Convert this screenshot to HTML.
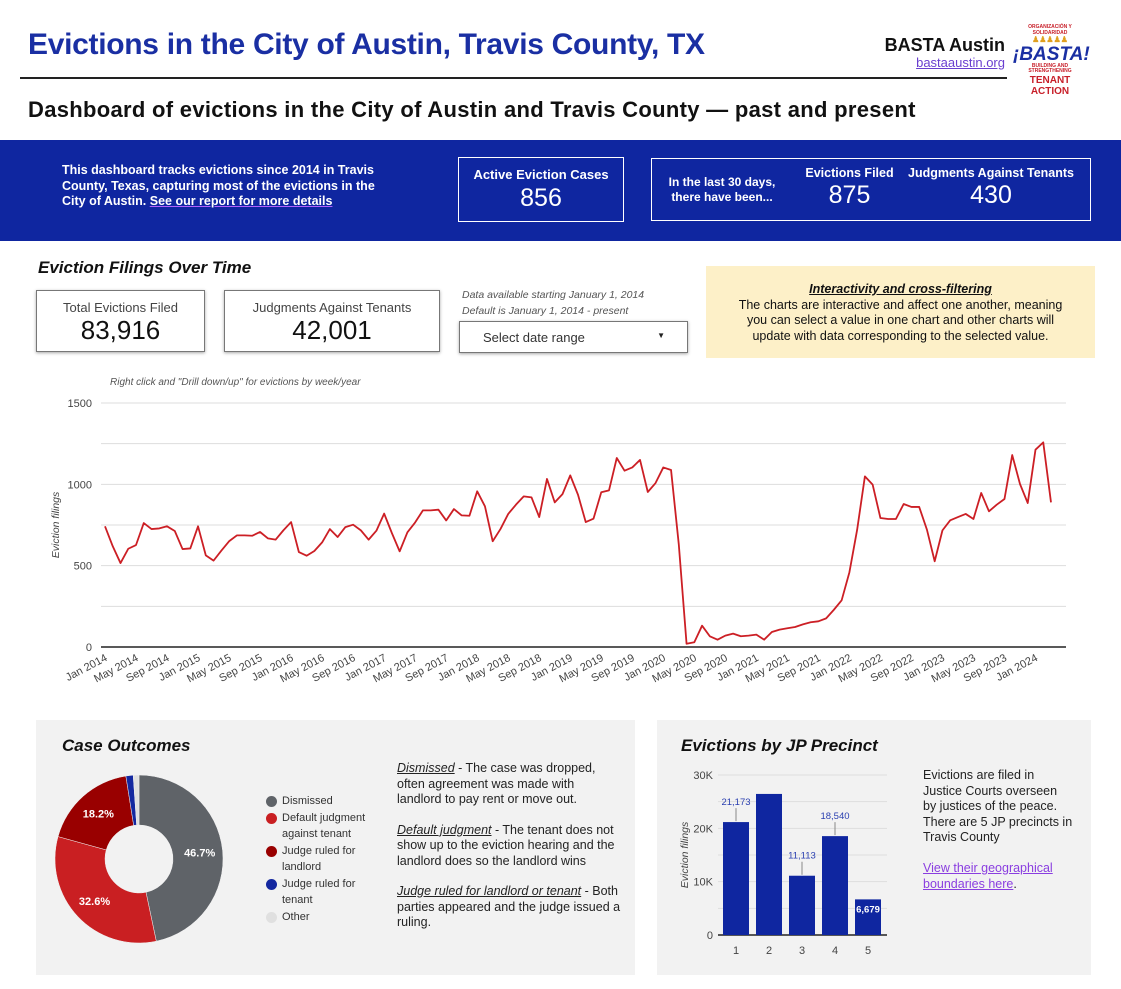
<!DOCTYPE html>
<html><head><meta charset="utf-8">
<style>
*{box-sizing:border-box;margin:0;padding:0}
body{width:1121px;height:989px;background:#fff;font-family:"Liberation Sans",sans-serif;position:relative;overflow:hidden;color:#222}
.a{position:absolute}
.box{position:absolute;border:1px solid #fff;color:#fff;text-align:center}
.kpi{position:absolute;border:1px solid #777;box-shadow:0 1px 3px rgba(0,0,0,.35);background:#fff;text-align:center}
</style></head><body>
<div class="a" style="left:28px;top:28px;font-size:30px;font-weight:bold;color:#1a2fa3;letter-spacing:-0.3px">Evictions in the City of Austin, Travis County, TX</div>
<div class="a" style="left:20px;top:77px;width:987px;height:2px;background:#222"></div>
<div class="a" style="left:860px;top:35px;width:145px;text-align:right;font-size:18px;font-weight:bold;color:#111">BASTA Austin</div>
<div class="a" style="left:860px;top:55px;width:145px;text-align:right;font-size:13px;color:#6a3fd0;text-decoration:underline">bastaaustin.org</div>
<div class="a" style="left:1013px;top:25px;width:74px;height:62px;text-align:center;color:#c8202a;font-weight:bold;font-size:7px;line-height:1.1">
<div style="font-size:5px;color:#c8202a">ORGANIZACIÓN Y SOLIDARIDAD</div><div style="color:#e0a020;font-size:8px">♟♟♟♟♟</div><div style="font-size:19px;font-style:italic;color:#1a2fa3;line-height:1">¡BASTA!</div><div style="font-size:5px">BUILDING AND STRENGTHENING</div><div style="font-size:10px">TENANT ACTION</div></div>
<div class="a" style="left:28px;top:97px;font-size:22px;font-weight:bold;color:#111;letter-spacing:0.3px">Dashboard of evictions in the City of Austin and Travis County — past and present</div>

<div class="a" style="left:0;top:140px;width:1121px;height:101px;background:#0f26a0"></div>
<div class="a" style="left:62px;top:163px;width:320px;font-size:12.5px;font-weight:bold;color:#fff;line-height:15.5px">This dashboard tracks evictions since 2014 in Travis County, Texas, capturing most of the evictions in the City of Austin. <span style="text-decoration:underline;text-decoration-color:#b060ff">See our report for more details</span></div>
<div class="box" style="left:458px;top:157px;width:166px;height:65px"><div style="font-size:13px;font-weight:bold;margin-top:9px">Active Eviction Cases</div><div style="font-size:25px;margin-top:2px">856</div></div>
<div class="box" style="left:651px;top:158px;width:440px;height:63px">
<div class="a" style="left:10px;top:16px;width:120px;font-size:12px;font-weight:bold;line-height:15px">In the last 30 days, there have been...</div>
<div class="a" style="left:140px;top:7px;width:115px;font-size:12.5px;font-weight:bold">Evictions Filed</div><div class="a" style="left:140px;top:22px;width:115px;font-size:25px">875</div>
<div class="a" style="left:249px;top:7px;width:180px;font-size:12.5px;font-weight:bold;white-space:nowrap">Judgments Against Tenants</div><div class="a" style="left:249px;top:22px;width:180px;font-size:25px">430</div></div>

<div class="a" style="left:38px;top:258px;font-size:17px;font-weight:bold;font-style:italic;color:#111">Eviction Filings Over Time</div>
<div class="kpi" style="left:36px;top:290px;width:169px;height:62px"><div style="font-size:13px;color:#444;margin-top:9px">Total Evictions Filed</div><div style="font-size:26px;color:#111">83,916</div></div>
<div class="kpi" style="left:224px;top:290px;width:216px;height:62px"><div style="font-size:13px;color:#444;margin-top:9px">Judgments Against Tenants</div><div style="font-size:26px;color:#111">42,001</div></div>
<div class="a" style="left:462px;top:287px;font-size:10.5px;font-style:italic;color:#555;line-height:16px">Data available starting January 1, 2014<br>Default is January 1, 2014 - present</div>
<div class="kpi" style="left:459px;top:321px;width:229px;height:32px;text-align:left"><span style="position:absolute;left:23px;top:8px;font-size:13px;color:#333">Select date range</span><span style="position:absolute;right:22px;top:9px;font-size:8px">▼</span></div>
<div class="a" style="left:706px;top:266px;width:389px;height:92px;background:#fdf0c8;text-align:center;font-size:12.5px;line-height:15.5px;padding-top:16px;color:#111"><b><i><u>Interactivity and cross-filtering </u></i></b><br>The charts are interactive and affect one another, meaning<br>you can select a value in one chart and other charts will<br>update with data corresponding to the selected value.</div>
<div class="a" style="left:110px;top:377px;font-size:10px;font-style:italic;color:#555">Right click and "Drill down/up" for evictions by week/year</div>

<svg class="a" style="left:0;top:380px" width="1121" height="320" id="lc"></svg>

<div class="a" style="left:36px;top:720px;width:599px;height:255px;background:#f2f2f2"></div>
<div class="a" style="left:62px;top:736px;font-size:17px;font-weight:bold;font-style:italic;color:#111">Case Outcomes</div>
<svg class="a" style="left:36px;top:760px" width="220" height="200" id="pie"></svg>
<div class="a" id="legend" style="left:266px;top:793px;font-size:11px;color:#333;line-height:16.5px"></div>
<div class="a" style="left:397px;top:761px;width:225px;font-size:12.5px;line-height:15.5px;color:#222">
<p><i><u>Dismissed</u></i> - The case was dropped, often agreement was made with landlord to pay rent or move out.</p>
<p style="margin-top:15px"><i><u>Default judgment</u></i> - The tenant does not show up to the eviction hearing and the landlord does so the landlord wins</p>
<p style="margin-top:15px"><i><u>Judge ruled for landlord or tenant</u></i> - Both parties appeared and the judge issued a ruling.</p></div>

<div class="a" style="left:657px;top:720px;width:434px;height:255px;background:#f2f2f2"></div>
<div class="a" style="left:681px;top:736px;font-size:17px;font-weight:bold;font-style:italic;color:#111">Evictions by JP Precinct</div>
<svg class="a" style="left:657px;top:760px" width="250" height="210" id="bc"></svg>
<div class="a" style="left:923px;top:768px;width:150px;font-size:12.5px;line-height:15.5px;color:#222">Evictions are filed in Justice Courts overseen by justices of the peace. There are 5 JP precincts in Travis County<br><br><span style="color:#8a3ee0;text-decoration:underline">View their geographical boundaries here</span>.</div>

<script>
const NS="http://www.w3.org/2000/svg";
function mk(p,t,a){const e=document.createElementNS(NS,t);for(const k in a)e.setAttribute(k,a[k]);p.appendChild(e);return e;}
// ---- line chart data ----
const startYear=2014;
const monthNames=["Jan","Feb","Mar","Apr","May","Jun","Jul","Aug","Sep","Oct","Nov","Dec"];
const filings=[
742,619,516,604,627,762,725,729,742,713,602,606,
742,563,531,592,650,686,686,684,707,668,660,717,
768,584,561,590,643,725,676,737,752,717,660,715,
820,700,588,705,766,840,840,844,778,848,809,807,
957,865,650,725,818,875,926,920,799,1033,889,940,
1055,936,768,789,951,963,1162,1084,1104,1150,953,1008,
1104,1088,630,20,29,131,66,45,70,82,66,70,
76,45,92,107,115,123,139,152,158,176,229,287,
459,721,1049,998,793,787,787,879,861,861,721,527,
717,779,799,818,787,947,834,875,910,1180,1002,885,
1213,1258,889];
const yTicks=[0,500,1000,1500];
const yGrid=[0,250,500,750,1000,1250,1500];
const lc=document.getElementById('lc');
const X0=105,X1=1051,Y0=267,YS=244/1500;
const xs=i=>X0+i*(X1-X0)/(filings.length-1);
const ys=v=>Y0-v*YS;
yGrid.forEach(v=>{const l=mk(lc,'line',{x1:101,x2:1066,y1:ys(v),y2:ys(v),stroke:v===0?'#222':'#ddd','stroke-width':v===0?1.5:1});

});
yTicks.forEach(v=>{const t=mk(lc,'text',{x:92,y:ys(v)+4,'text-anchor':'end','font-size':11,fill:'#444','font-family':'Liberation Sans'});t.textContent=v;

});
const yt=mk(lc,'text',{x:0,y:0,transform:`translate(59,${ys(750)}) rotate(-90)`,'text-anchor':'middle','font-size':10.5,'font-style':'italic',fill:'#444','font-family':'Liberation Sans'});yt.textContent='Eviction filings';


for(let i=0;i<filings.length;i+=4){const lab=monthNames[i%12]+' '+(startYear+Math.floor(i/12));
const t=mk(lc,'text',{x:0,y:0,transform:`translate(${xs(i)+3},${Y0+13}) rotate(-28)`,'text-anchor':'end','font-size':11,fill:'#444','font-family':'Liberation Sans'});t.textContent=lab;

}
const pl=mk(lc,'polyline',{points:filings.map((v,i)=>xs(i)+','+ys(v)).join(' '),fill:'none',stroke:'#cc1f25','stroke-width':1.8,'stroke-linejoin':'round'});



// ---- donut ----
const outcomeLabels=["Dismissed","Default judgment against tenant","Judge ruled for landlord","Judge ruled for tenant","Other"];
const outcomeShares=[46.7,32.6,18.2,1.4,1.1];
const outcomeColors=['#5f6368','#c91f22','#990000','#1428a0','#e0e0e0'];
const pie=document.getElementById('pie');
const cx=103,cy=99,R=84,r=34;
let ang=0;const tot=outcomeShares.reduce((a,b)=>a+b,0);
outcomeShares.forEach((v,i)=>{const a0=ang,a1=ang+v/tot*2*Math.PI;ang=a1;
const p=(a,rr)=>[cx+rr*Math.sin(a),cy-rr*Math.cos(a)];const lg=(a1-a0)>Math.PI?1:0;
const [x0,y0]=p(a0,R),[x1,y1]=p(a1,R),[x2,y2]=p(a1,r),[x3,y3]=p(a0,r);
const s=mk(pie,'path',{d:`M${x0},${y0}A${R},${R} 0 ${lg} 1 ${x1},${y1}L${x2},${y2}A${r},${r} 0 ${lg} 0 ${x3},${y3}Z`,fill:outcomeColors[i],stroke:'#f2f2f2','stroke-width':0.5});


if(v>5){const [tx,ty]=p((a0+a1)/2,(R+r)/2+2);const t=mk(pie,'text',{x:tx,y:ty+4,'text-anchor':'middle','font-size':11,'font-weight':'bold',fill:'#fff','font-family':'Liberation Sans'});t.textContent=v.toFixed(1)+'%';

}});
const lgd=document.getElementById('legend');
const lgLines=[["Dismissed"],["Default judgment","against tenant"],["Judge ruled for","landlord"],["Judge ruled for","tenant"],["Other"]];
lgLines.forEach((ls,i)=>{const d=document.createElement('div');d.style.cssText='position:relative;padding-left:16px;margin-bottom:0';


d.innerHTML=`<span style="position:absolute;left:0;top:3px;width:11px;height:11px;border-radius:50%;background:${outcomeColors[i]}"></span>`+ls.join('<br>');lgd.appendChild(d);});

// ---- bar chart ----
const precincts=["1","2","3","4","5"];
const precinctValues=[21173,26450,11113,18540,6679];
const precinctLabels=["21,173","","11,113","18,540","6,679"];
const barTicks=[0,10000,20000,30000];const barTickLabels=["0","10K","20K","30K"];
const bc=document.getElementById('bc');
const B0=175,BS=160/30000,BX=79,BW=33;
const by=v=>B0-v*BS;
[0,5000,10000,15000,20000,25000,30000].forEach(v=>{const l=mk(bc,'line',{x1:61,x2:230,y1:by(v),y2:by(v),stroke:v===0?'#222':'#ddd','stroke-width':v===0?1.5:1});

});
barTicks.forEach((v,i)=>{const t=mk(bc,'text',{x:56,y:by(v)+4,'text-anchor':'end','font-size':11,fill:'#444','font-family':'Liberation Sans'});t.textContent=barTickLabels[i];

});
const bt=mk(bc,'text',{x:0,y:0,transform:`translate(31,${by(15000)}) rotate(-90)`,'text-anchor':'middle','font-size':10.5,'font-style':'italic',fill:'#444','font-family':'Liberation Sans'});bt.textContent='Eviction filings';


precinctValues.forEach((v,i)=>{const cxb=BX+i*BW;
const b=mk(bc,'rect',{x:cxb-13,y:by(v),width:26,height:B0-by(v),fill:'#0f26a0'});


const t=mk(bc,'text',{x:cxb,y:B0+19,'text-anchor':'middle','font-size':11,fill:'#444','font-family':'Liberation Sans'});t.textContent=precincts[i];


if(precinctLabels[i]){const inside=v<8000;
if(!inside)mk(bc,'line',{x1:cxb,x2:cxb,y1:by(v)-1,y2:by(v)-14,stroke:'#888'});
const lt=mk(bc,'text',{x:cxb,y:inside?by(v)+13:by(v)-17,'text-anchor':'middle','font-size':9.5,fill:inside?'#fff':'#2a3fb0','font-weight':inside?'bold':'normal','font-family':'Liberation Sans'});lt.textContent=precinctLabels[i];

}});
</script>
</body></html>
